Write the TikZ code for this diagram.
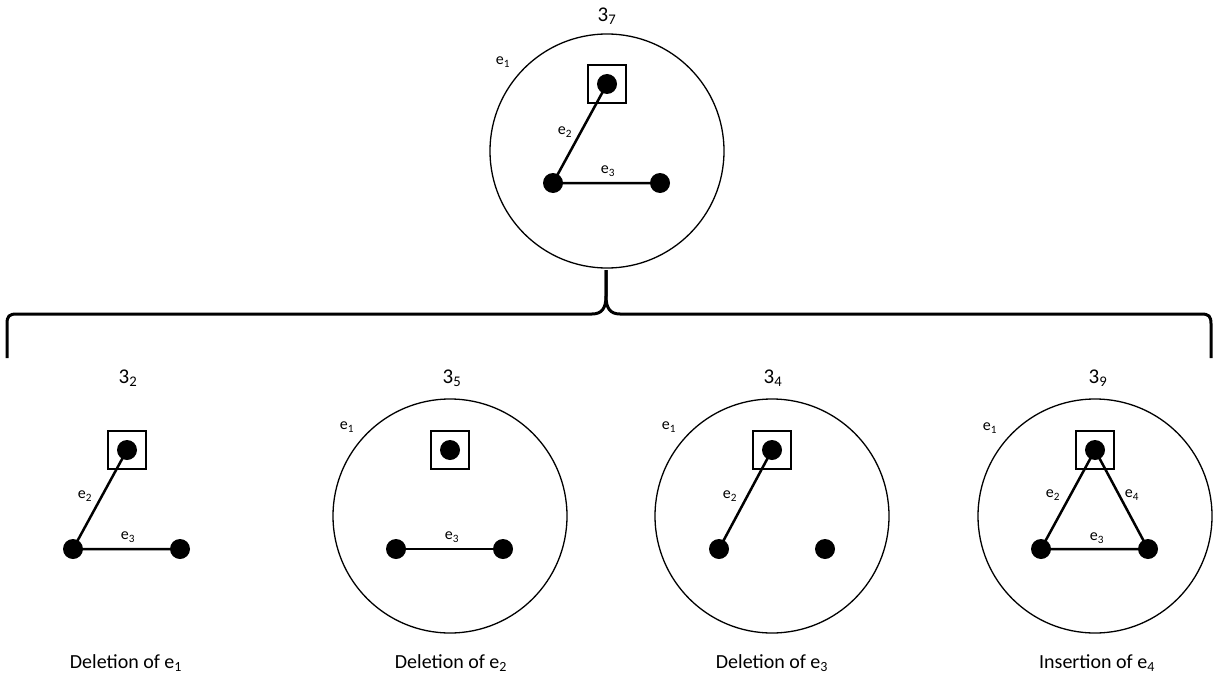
\documentclass[tikz,border=0pt]{standalone}
\usepackage{fontspec}
\setmainfont{Carlito}
\newcommand{\lsub}[1]{\textsubscript{#1}}
\begin{document}
\begin{tikzpicture}[x=1pt,y=-1pt,
  vtx/.style={circle,fill=black,minimum size=20pt,inner sep=0pt},
  root/.style={draw,line width=1.5pt,minimum size=38pt,inner sep=0pt},
  ring/.style={draw,circle,line width=1.3pt,minimum size=234pt,inner sep=0pt},
  link/.style={line width=2.5pt},
  elab/.style={font=\fontsize{16}{18}\selectfont,inner sep=0pt},
  gtitle/.style={font=\fontsize{21}{24}\selectfont,inner sep=0pt},
  gcaption/.style={font=\fontsize{20}{24}\selectfont,inner sep=0pt},
  bracestyle/.style={line width=3pt}]
\useasboundingbox (0,0) rectangle (1222,682);

% ---- top graph 3_7
\node[ring] (c7) at (607,151) {};
\node[gtitle] (t7) at (607,16) {3\lsub{7}};
\node[root] (s7) at (607,84) {};
\node[vtx] (a7) at (607,84) {};
\node[vtx] (b7) at (553,183) {};
\node[vtx] (d7) at (660,183) {};
\draw[link] (a7.center) -- (b7.center) -- (d7.center);
\node[elab] (l71) at (503,62) {e\lsub{1}};
\node[elab] (l72) at (565,132) {e\lsub{2}};
\node[elab] (l73) at (608,171) {e\lsub{3}};

% ---- brace
\coordinate (bl) at (7,358);
\coordinate (br) at (1211,358);
\coordinate (tip) at (606,270);
\draw[bracestyle] (bl) -- (7,324) .. controls (7,316) and (9,314) .. (17,314) -- (592,314)
  .. controls (602,314) and (606,308) .. (606,296) -- (tip);
\draw[bracestyle] (br) -- (1211,324) .. controls (1211,316) and (1209,314) .. (1201,314) -- (620,314)
  .. controls (610,314) and (606,308) .. (606,296) -- (tip);

% ---- 3_2 : deletion of e1
\node[gtitle] (t2) at (128,378) {3\lsub{2}};
\node[root] (s2) at (127,450) {};
\node[vtx] (a2) at (127,450) {};
\node[vtx] (b2) at (73,549) {};
\node[vtx] (d2) at (180,549) {};
\draw[link] (a2.center) -- (b2.center) -- (d2.center);
\node[elab] (l22) at (85,496) {e\lsub{2}};
\node[elab] (l23) at (128,537) {e\lsub{3}};
\node[gcaption] (k2) at (126,663) {Deletion of e\lsub{1}};

% ---- 3_5 : deletion of e2
\node[ring] (c5) at (450,516) {};
\node[gtitle] (t5) at (452,378) {3\lsub{5}};
\node[root] (s5) at (450,450) {};
\node[vtx] (a5) at (450,450) {};
\node[vtx] (b5) at (396,549) {};
\node[vtx] (d5) at (503,549) {};
\draw[link] (b5.center) -- (d5.center);
\node[elab] (l51) at (347,427) {e\lsub{1}};
\node[elab] (l53) at (452,537) {e\lsub{3}};
\node[gcaption] (k5) at (451,663) {Deletion of e\lsub{2}};

% ---- 3_4 : deletion of e3
\node[ring] (c4) at (772,516) {};
\node[gtitle] (t4) at (773,378) {3\lsub{4}};
\node[root] (s4) at (772,450) {};
\node[vtx] (a4) at (772,450) {};
\node[vtx] (b4) at (719,549) {};
\node[vtx] (d4) at (825,549) {};
\draw[link] (a4.center) -- (b4.center);
\node[elab] (l41) at (669,427) {e\lsub{1}};
\node[elab] (l42) at (730,496) {e\lsub{2}};
\node[gcaption] (k4) at (772,663) {Deletion of e\lsub{3}};

% ---- 3_9 : insertion of e4
\node[ring] (c9) at (1095,516) {};
\node[gtitle] (t9) at (1098,378) {3\lsub{9}};
\node[root] (s9) at (1095,450) {};
\node[vtx] (a9) at (1095,450) {};
\node[vtx] (b9) at (1041,549) {};
\node[vtx] (d9) at (1148,549) {};
\draw[link] (a9.center) -- (b9.center) -- (d9.center) -- (a9.center);
\node[elab] (l91) at (990,428) {e\lsub{1}};
\node[elab] (l92) at (1053,495) {e\lsub{2}};
\node[elab] (l94) at (1132,495) {e\lsub{4}};
\node[elab] (l93) at (1097,538) {e\lsub{3}};
\node[gcaption] (k9) at (1097,663) {Insertion of e\lsub{4}};
\end{tikzpicture}
\end{document}
